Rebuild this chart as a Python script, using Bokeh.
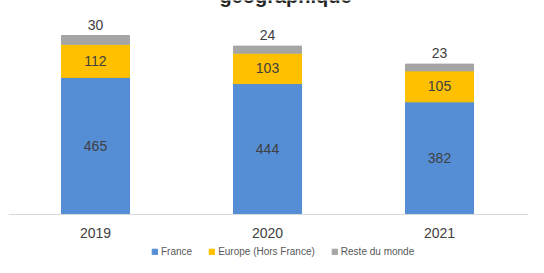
from bokeh.plotting import figure
from bokeh.models import ColumnDataSource, Range1d, Legend, LegendItem, Label, Span
from bokeh.core.properties import value
from bokeh.embed import file_html
from bokeh.resources import INLINE

years = ["2019", "2020", "2021"]
france = [465, 444, 382]
europe = [112, 103, 105]
monde = [30, 24, 23]

x = list(range(len(years)))
b1 = [f + e for f, e in zip(france, europe)]
tot = [a + m for a, m in zip(b1, monde)]

src = ColumnDataSource(dict(
    x=x, years=years, france=france, europe=europe, monde=monde,
    zero=[0] * len(x), b1=b1, tot=tot,
    mid_f=[f / 2 for f in france],
    mid_e=[f + e / 2 for f, e in zip(france, europe)],
    lf=[str(v) for v in france], le=[str(v) for v in europe], lm=[str(v) for v in monde],
))

PX = 172.0               # pixels per category
H = 257
BASE = 214               # pixel row of the baseline
PY = (BASE - 35) / 607   # pixels per unit
p = figure(frame_width=520, frame_height=H, output_backend="svg", toolbar_location=None,
           x_range=Range1d(-87 / PX, (520 - 87) / PX),
           y_range=Range1d(-(H - BASE) / PY, BASE / PY),
           min_border=0, min_border_left=8, min_border_right=0, min_border_top=0,
           min_border_bottom=0)
p.outline_line_color = None
p.background_fill_color = "white"
p.grid.visible = False
p.xaxis.visible = False
p.yaxis.visible = False

p.add_layout(Span(location=0, dimension="width", line_color="#D9D9D9", line_width=1))

BLUE, YEL, GRAY = "#558ED5", "#FFC000", "#A5A5A5"
W = 68 / PX
rf = p.vbar(x="x", bottom="zero", top="france", width=W, color=BLUE, source=src)
re_ = p.vbar(x="x", bottom="france", top="b1", width=W, color=YEL, source=src)
rm = p.vbar(x="x", bottom="b1", top="tot", width=W, color=GRAY, source=src)

font = value("Liberation Sans")
TC = "#404040"
p.text(x="x", y="mid_f", text="lf", source=src, text_align="center", text_baseline="middle",
       text_font=font, text_font_size="14px", text_color=TC)
p.text(x="x", y="mid_e", text="le", source=src, text_align="center", text_baseline="middle",
       text_font=font, text_font_size="14px", text_color=TC)
p.text(x="x", y="tot", text="lm", source=src, text_align="center", text_baseline="bottom",
       y_offset=-6, text_font=font, text_font_size="14px", text_color=TC)
p.text(x="x", y="zero", text="years", source=src, text_align="center", text_baseline="middle",
       y_offset=18, text_font=font, text_font_size="14px", text_color=TC)

legend = Legend(items=[LegendItem(label="France", renderers=[rf]),
                       LegendItem(label="Europe (Hors France)", renderers=[re_]),
                       LegendItem(label="Reste du monde", renderers=[rm])],
                orientation="horizontal", location=(143, 0),
                glyph_width=7, glyph_height=7, label_standoff=3, spacing=16,
                label_text_font="Liberation Sans", label_text_font_size="10px",
                label_text_color="#595959", padding=1, margin=0,
                border_line_color=None, background_fill_alpha=0,
                label_height=10)
p.add_layout(legend, "center")

p.add_layout(Label(x=190 / PX, y=(BASE - 6) / PY, text="géographique", text_align="center",
                   text_baseline="bottom", text_font="Liberation Sans", text_font_size="20px",
                   text_font_style="bold", text_color="#262626"))

open("out.html", "w").write(file_html(p, INLINE))
